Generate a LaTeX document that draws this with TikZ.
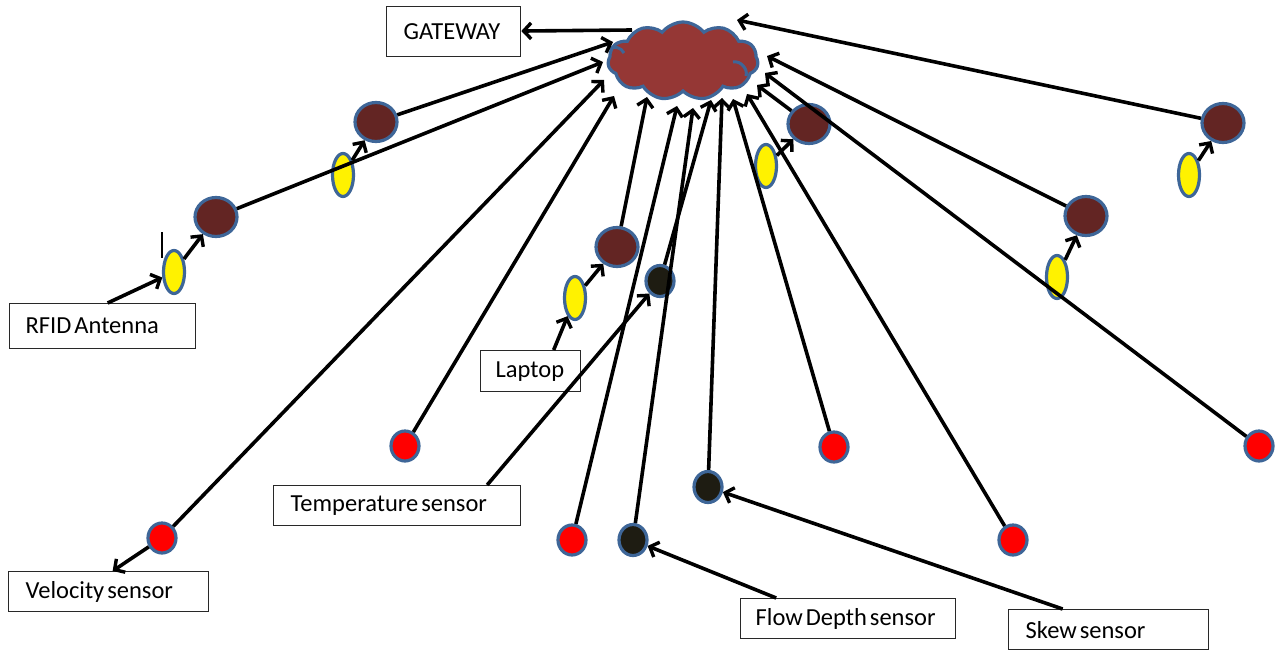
\documentclass[tikz,border=0pt]{standalone}
\usepackage{fontspec}
\setmainfont{Carlito}
\usetikzlibrary{shapes.geometric,shapes.symbols,arrows.meta}
\definecolor{edgeblue}{RGB}{62,102,152}
\definecolor{cloudred}{RGB}{149,55,53}
\definecolor{maroondot}{RGB}{99,37,35}
\definecolor{darkdot}{RGB}{30,28,18}
\definecolor{boxline}{RGB}{40,40,40}
\newcommand\narrowspaces{\spaceskip=3pt plus 1pt\relax}
\begin{document}
\begin{tikzpicture}[x=1pt,y=-1pt,
  dotbase/.style={ellipse,draw=edgeblue,line width=3.2pt,inner sep=0pt},
  maroonc/.style={dotbase,fill=maroondot,minimum width=42pt,minimum height=39pt},
  yellowc/.style={dotbase,fill=yellow,minimum width=21pt,minimum height=43pt},
  redc/.style={dotbase,fill=red,minimum width=28pt,minimum height=30pt},
  darkc/.style={dotbase,fill=darkdot,minimum width=28pt,minimum height=31pt},
  labelbox/.style={rectangle,draw=boxline,line width=1.3pt,fill=white,anchor=north west,
    inner ysep=0pt,align=left,font=\fontsize{24.5}{28}\selectfont,
    execute at begin node=\narrowspaces},
  arr/.style={line width=3.6pt,-{Straight Barb[length=7.5pt,width=16pt,line width=3.4pt]}},
  tick/.style={line width=1.6pt},
  innerarc/.style={draw=edgeblue,line width=3pt}
]
\useasboundingbox[fill=white] (0,0) rectangle (1277,650);

% cloud
\node[cloud,cloud puffs=11,cloud puff arc=105,aspect=1.9,draw=edgeblue,line width=3.2pt,
  fill=cloudred,minimum width=150pt,minimum height=78pt,inner sep=0pt] (cloud) at (683,61) {};
\coordinate (ia1) at (609,49);
\coordinate (ia2) at (733,62);
\draw[innerarc] (ia1) to[bend left=50] ++(15,4);
\draw[innerarc] (ia2) to[bend left=60] ++(13,14);

% label boxes
\node[labelbox,inner xsep=17pt,text width=100pt,minimum height=50pt] (gateway) at (386,6) {GATEWAY};
\node[labelbox,inner xsep=16pt,text width=154pt,minimum height=45pt] (rfid) at (9,303) {RFID Antenna};
\node[labelbox,inner xsep=15pt,text width=70pt,minimum height=41pt] (laptop) at (480,350) {Laptop};
\node[labelbox,inner xsep=17pt,text width=213pt,minimum height=40pt] (temp) at (273,485) {Temperature sensor};
\node[labelbox,inner xsep=17pt,text width=166pt,minimum height=40pt] (velo) at (8,571) {Velocity sensor};
\node[labelbox,inner xsep=15pt,text width=185pt,minimum height=40pt] (flow) at (740,598) {Flow Depth sensor};
\node[labelbox,inner xsep=17pt,text width=166pt,minimum height=40pt] (skew) at (1008,609) {Skew sensor};

% maroon nodes
\node[maroonc] (m1) at (376,122) {};
\node[maroonc] (m2) at (216,217) {};
\node[maroonc] (m3) at (617,247) {};
\node[maroonc] (m4) at (809,124) {};
\node[maroonc] (m5) at (1086,216) {};
\node[maroonc] (m6) at (1223,123) {};
% yellow antennas
\node[yellowc] (y1) at (174,272) {};
\node[yellowc] (y2) at (343,175) {};
\node[yellowc] (y3) at (575,298) {};
\node[yellowc] (y4) at (766,166) {};
\node[yellowc] (y5) at (1057,277) {};
\node[yellowc] (y6) at (1189,175) {};
% red sensors
\node[redc] (r1) at (405,446) {};
\node[redc] (r2) at (162,538) {};
\node[redc] (r3) at (572,540) {};
\node[redc] (r4) at (834,447) {};
\node[redc] (r5) at (1013,540) {};
\node[redc] (r6) at (1259,446) {};
% dark sensors
\node[darkc] (b1) at (660,281) {};
\node[darkc] (b2) at (633,540) {};
\node[darkc] (b3) at (708,487) {};

% arrow tips on the cloud
\coordinate (gw) at (632,30);
\coordinate (t1) at (613,42);
\coordinate (t2) at (603,62);
\coordinate (t3) at (604,80);
\coordinate (t4) at (614,96);
\coordinate (t5) at (647,97);
\coordinate (t6) at (677,106);
\coordinate (t7) at (693,108);
\coordinate (t8) at (711,100);
\coordinate (t9) at (722,98);
\coordinate (t10) at (733,99);
\coordinate (t11) at (747,94);
\coordinate (t12) at (757,85);
\coordinate (t13) at (765,73);
\coordinate (t14) at (767,56);
\coordinate (t15) at (737,20);
\coordinate (tka) at (162,232);
\coordinate (tkb) at (162,258);

% cloud to gateway
\draw[arr] (gw) -- (gateway);

% connectors to cloud
\draw[arr] (m1) -- (t1);
\draw[arr] (m2) -- (t2);
\draw[arr] (r2) -- (t3);
\draw[arr] (r1) -- (t4);
\draw[arr] (m3) -- (t5);
\draw[arr] (r3) -- (t6);
\draw[arr] (b2) -- (t7);
\draw[arr] (b1) -- (t8);
\draw[arr] (b3) -- (t9);
\draw[arr] (r4) -- (t10);
\draw[arr] (r5) -- (t11);
\draw[arr] (m4) -- (t12);
\draw[arr] (r6) -- (t13);
\draw[arr] (m5) -- (t14);
\draw[arr] (m6) -- (t15);

% antenna to node
\draw[arr] (y1) -- (m2);
\draw[arr] (y2) -- (m1);
\draw[arr] (y3) -- (m3);
\draw[arr] (y4) -- (m4);
\draw[arr] (y5) -- (m5);
\draw[arr] (y6) -- (m6);

% labels
\draw[arr] ([xshift=5pt]rfid.north) -- (y1);
\draw[tick] (tka) -- (tkb);
\draw[arr] ([xshift=23pt]laptop.north) -- (y3);
\draw[arr] ([xshift=90pt]temp.north) -- (b1);
\draw[arr] (r2) -- ([xshift=4pt]velo.north);
\draw[arr] ([xshift=-72pt]flow.north) -- (b2);
\draw[arr] ([xshift=-46pt]skew.north) -- (b3);
\end{tikzpicture}
\end{document}
